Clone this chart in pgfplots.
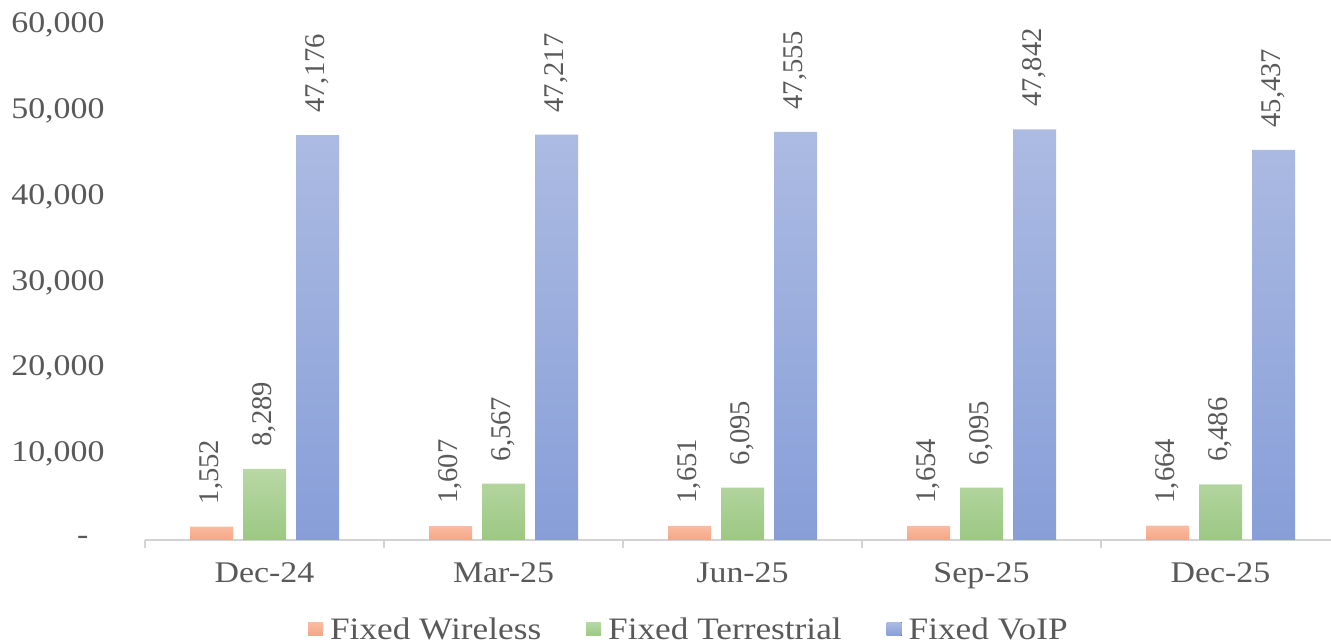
\documentclass[border=0pt]{standalone}
\usepackage{fontspec}
\setmainfont{Liberation Serif}[FakeStretch=1.13]
\newfontfamily\lblfont{Liberation Serif}
\usepackage{pgfplots}
\pgfplotsset{compat=1.18}
\definecolor{txt}{RGB}{89,89,89}
\definecolor{oT}{RGB}{250,188,162}
\definecolor{oB}{RGB}{244,166,132}
\definecolor{gT}{RGB}{184,216,165}
\definecolor{gB}{RGB}{156,200,131}
\definecolor{bT}{RGB}{172,187,226}
\definecolor{bB}{RGB}{135,158,216}
\definecolor{axl}{RGB}{210,210,210}
\begin{document}
\begin{tikzpicture}
\useasboundingbox (0,0) rectangle (665.5pt,320pt);
\begin{axis}[
  at={(72.5pt,50pt)}, anchor=south west,
  scale only axis, width=597.5pt, height=257.5pt,
  ybar=5pt, bar width=21.5pt,
  xmin=-0.5, xmax=4.5, ymin=0, ymax=60000,
  scaled y ticks=false,
  xtick={0,1,2,3,4},
  xticklabels={Dec-24,Mar-25,Jun-25,Sep-25,Dec-25},
  minor xtick={-0.5,0.5,1.5,2.5,3.5,4.5},
  ytick={0,10000,20000,30000,40000,50000,60000},
  yticklabels={{-\hspace*{8pt}},{10,000},{20,000},{30,000},{40,000},{50,000},{60,000}},
  axis x line*=bottom, axis y line*=left,
  y axis line style={draw=none},
  x axis line style={axl, line width=1pt},
  major tick length=0pt, minor tick length=4pt, tick align=outside,
  every minor tick/.append style={axl, line width=1pt},
  tick label style={font=\fontsize{15}{18}\selectfont, color=txt},
  xticklabel style={yshift=-8pt},
  yticklabel style={xshift=-16.7pt},
  nodes near coords,
  /pgf/number format/assume math mode=true,
  /pgf/number format/1000 sep={,},
  every node near coord/.append style={rotate=90, anchor=west, font=\lblfont\fontsize{14.3}{17}\selectfont, color=txt, inner xsep=11pt},
  legend columns=3,
  legend style={at={(0.456,-0.2146)}, anchor=south, draw=none, fill=none,
    font=\fontsize{15.6}{18}\selectfont, text=txt,
    /tikz/every odd column/.append style={column sep=1.5pt},
    /tikz/every even column/.append style={column sep=20.5pt}},
  legend image code/.code={\fill[#1] (0pt,-3pt) rectangle (7.5pt,3.8pt);},
]
\addplot[draw=none, top color=oT, bottom color=oB] coordinates {(0,1552) (1,1607) (2,1651) (3,1654) (4,1664)};
\addplot[draw=none, top color=gT, bottom color=gB] coordinates {(0,8289) (1,6567) (2,6095) (3,6095) (4,6486)};
\addplot[draw=none, top color=bT, bottom color=bB] coordinates {(0,47176) (1,47217) (2,47555) (3,47842) (4,45437)};
\legend{Fixed Wireless, Fixed Terrestrial, Fixed VoIP}
\end{axis}
\end{tikzpicture}
\end{document}
